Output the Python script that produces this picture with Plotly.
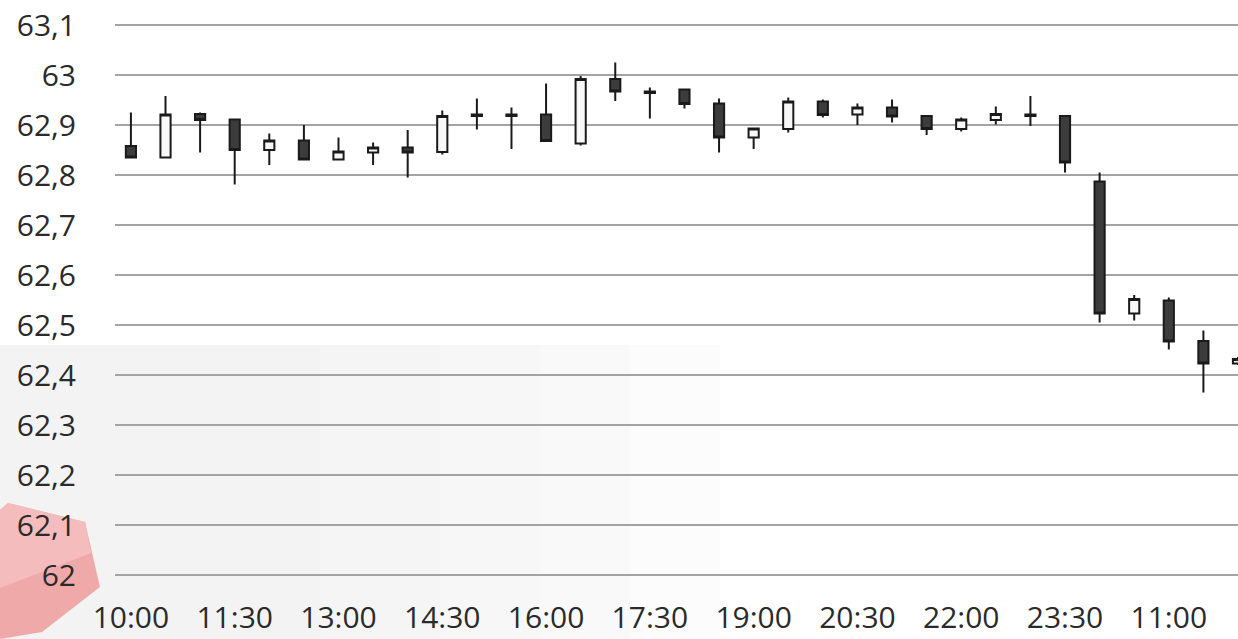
import plotly.graph_objects as go

# ---- data ----
times = ["10:00", "10:30", "11:00", "11:30", "12:00", "12:30", "13:00", "13:30",
         "14:00", "14:30", "15:00", "15:30", "16:00", "16:30", "17:00", "17:30",
         "18:00", "18:30", "19:00", "19:30", "20:00", "20:30", "21:00", "21:30",
         "22:00", "22:30", "23:00", "23:30", "10:00", "10:30", "11:00", "11:30", "12:00"]
opens = [62.858, 62.835, 62.922, 62.911, 62.850, 62.869, 62.831, 62.845, 62.855, 62.846,
         62.921, 62.921, 62.921, 62.863, 62.992, 62.967, 62.971, 62.943, 62.875, 62.892,
         62.947, 62.921, 62.935, 62.918, 62.892, 62.910, 62.921, 62.918, 62.787, 62.523,
         62.549, 62.468, 62.423]
highs = [62.925, 62.958, 62.925, 62.911, 62.883, 62.900, 62.875, 62.865, 62.890, 62.929,
         62.953, 62.935, 62.983, 62.998, 63.025, 62.975, 62.971, 62.953, 62.893, 62.955,
         62.951, 62.943, 62.951, 62.918, 62.915, 62.937, 62.958, 62.918, 62.805, 62.560,
         62.555, 62.489, 62.436]
lows = [62.835, 62.835, 62.845, 62.781, 62.820, 62.831, 62.831, 62.820, 62.795, 62.841,
        62.891, 62.852, 62.868, 62.859, 62.948, 62.913, 62.933, 62.845, 62.852, 62.885,
        62.915, 62.900, 62.905, 62.880, 62.887, 62.901, 62.898, 62.805, 62.505, 62.509,
        62.451, 62.365, 62.420]
closes = [62.835, 62.921, 62.910, 62.850, 62.869, 62.831, 62.847, 62.855, 62.845, 62.918,
          62.918, 62.918, 62.868, 62.992, 62.967, 62.964, 62.942, 62.875, 62.893, 62.947,
          62.920, 62.935, 62.917, 62.892, 62.911, 62.922, 62.918, 62.825, 62.523, 62.552,
          62.467, 62.423, 62.432]
y_ticks = [62.0, 62.1, 62.2, 62.3, 62.4, 62.5, 62.6, 62.7, 62.8, 62.9, 63.0, 63.1]
y_labels = ["62", "62,1", "62,2", "62,3", "62,4", "62,5", "62,6", "62,7", "62,8", "62,9", "63", "63,1"]

idx = list(range(len(times)))

# ---- figure ----
W, H = 1238, 639
ml, mr, mt, mb = 115, 0, 20, 59
pw, ph = W - ml - mr, H - mt - mb


def px(x):
    return (x - ml) / pw


def py(y):
    return (H - mb - y) / ph


fig = go.Figure()
fig.add_trace(go.Candlestick(
    x=idx, open=opens, high=highs, low=lows, close=closes,
    increasing=dict(fillcolor="#f8f8f8", line=dict(color="#1a1a1a", width=2)),
    decreasing=dict(fillcolor="#3c3c3c", line=dict(color="#1a1a1a", width=2)),
    whiskerwidth=0, showlegend=False, hoverinfo="skip",
))

# decorative watermark (background)
shapes = []
bands = [(0, 320, "#f3f3f3"), (320, 440, "#f5f5f5"), (440, 540, "#f7f7f7"),
         (540, 630, "#f9f9f9"), (630, 720, "#fcfcfc")]
for a, b, c in bands:
    shapes.append(dict(type="rect", xref="paper", yref="paper", x0=px(a), x1=px(b),
                       y0=py(639), y1=py(345), fillcolor=c, line=dict(width=0), layer="below"))
hexpts = [(0, 510), (8, 503), (85, 522), (100, 587), (42, 632), (0, 639)]
path = "M " + " L ".join(f"{px(a):.5f},{py(b):.5f}" for a, b in hexpts) + " Z"
shapes.append(dict(type="path", xref="paper", yref="paper", path=path,
                   fillcolor="#f0a9a9", line=dict(width=0), layer="below"))
lightpts = [(0, 510), (8, 503), (85, 522), (91, 553), (0, 588)]
path2 = "M " + " L ".join(f"{px(a):.5f},{py(b):.5f}" for a, b in lightpts) + " Z"
shapes.append(dict(type="path", xref="paper", yref="paper", path=path2,
                   fillcolor="#f4bcbc", line=dict(width=0), layer="below"))

fig.update_layout(
    width=W, height=H,
    margin=dict(l=ml, r=mr, t=mt, b=mb, autoexpand=False),
    paper_bgcolor="white", plot_bgcolor="rgba(0,0,0,0)",
    font=dict(family="Open Sans", size=30, color="#2a2a2a"),
    boxgap=0.58,
    shapes=shapes,
    xaxis=dict(
        range=[-0.46, 32.0], rangeslider=dict(visible=False),
        tickmode="array", tickvals=idx[::3], ticktext=times[::3],
        showgrid=False, zeroline=False, showline=False, ticks="",
        ticklabelstandoff=17, automargin=False,
    ),
    yaxis=dict(
        range=[61.99, 63.11], tickmode="array", tickvals=y_ticks, ticktext=y_labels,
        showgrid=True, gridcolor="#a3a3a3", gridwidth=1.5, zeroline=False,
        showline=False, ticks="", ticklabelstandoff=38, automargin=False,
    ),
)

fig.write_html(
    "out.html",
    config={"displayModeBar": False},
    post_script="document.body.style.margin='0';document.body.style.overflow='hidden';",
)
